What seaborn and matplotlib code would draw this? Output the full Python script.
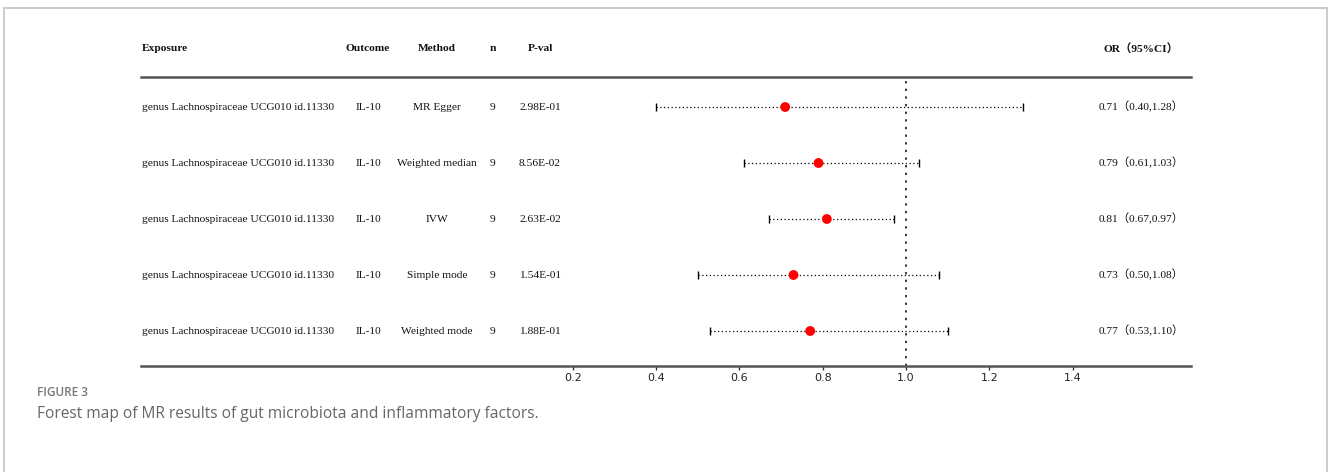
import pandas as pd
import matplotlib
matplotlib.use("Agg")
import matplotlib.pyplot as plt
import seaborn as sns
from matplotlib import transforms
from matplotlib.lines import Line2D

# Data
exposure = ["genus Lachnospiraceae UCG010 id.11330"] * 5
outcome = ["IL-10"] * 5
methods = ["MR Egger", "Weighted median", "IVW", "Simple mode", "Weighted mode"]
n_snp = [9, 9, 9, 9, 9]
pvals = ["2.98E-01", "8.56E-02", "2.63E-02", "1.54E-01", "1.88E-01"]
or_vals = [0.71, 0.79, 0.81, 0.73, 0.77]
ci_low = [0.40, 0.61, 0.67, 0.50, 0.53]
ci_high = [1.28, 1.03, 0.97, 1.08, 1.10]
xticks = [0.2, 0.4, 0.6, 0.8, 1.0, 1.2, 1.4]

df = pd.DataFrame({
    "exposure": exposure,
    "outcome": outcome,
    "method": methods,
    "n": n_snp,
    "pval": pvals,
    "or": or_vals,
    "lo": ci_low,
    "hi": ci_high,
})
df["row"] = range(len(df))
df["label"] = [f"{o:.2f}（{l:.2f},{h:.2f}）" for o, l, h in zip(df["or"], df["lo"], df["hi"])]

sns.set_style("white")
serif = ["Liberation Serif", "Noto Sans CJK SC", "DejaVu Sans"]

W, H = 1328, 472
fig = plt.figure(figsize=(W / 100, H / 100), dpi=100)
ax = fig.add_axes([141 / W, 1 - 366 / H, (1191 - 141) / W, (366 - 77) / H])

# CI bars (dotted) with solid caps
eb = ax.errorbar(df["or"], df["row"],
                 xerr=[df["or"] - df["lo"], df["hi"] - df["or"]],
                 fmt="none", ecolor="black", elinewidth=0.9,
                 capsize=3, capthick=1)
eb[2][0].set_linestyle((0, (1, 2)))

sns.scatterplot(data=df, x="or", y="row", color="red", s=50,
                edgecolor="none", zorder=3, ax=ax, legend=False)

ax.axvline(1.0, color="black", lw=1.1, ls=(0, (1.5, 3.5)), zorder=1)

ax.set_xlim(-0.836, 1.684)
ax.set_ylim(4.625, -0.536)
ax.set_xticks(xticks)
ax.set_xticklabels([f"{t:.1f}" for t in xticks])
ax.set_yticks([])
ax.set_xlabel("")
ax.set_ylabel("")
for side in ["left", "right"]:
    ax.spines[side].set_visible(False)
for side in ["top", "bottom"]:
    ax.spines[side].set_color("#555555")
    ax.spines[side].set_linewidth(1.8)
ax.tick_params(axis="x", direction="out", length=3, width=1, color="#333333",
               labelsize=8, pad=2, labelcolor="#222222", bottom=True)

# Table columns
trans = transforms.blended_transform_factory(fig.transFigure, ax.transData)
hy = -1.05
hdr = dict(transform=trans, fontsize=8.2, fontweight="bold", family=serif,
           va="center", clip_on=False, color="#111111")
ax.text(142 / W, hy, "Exposure", ha="left", **hdr)
ax.text(368 / W, hy, "Outcome", ha="center", **hdr)
ax.text(437 / W, hy, "Method", ha="center", **hdr)
ax.text(493 / W, hy, "n", ha="center", **hdr)
ax.text(528 / W, hy, "P-val", ha="left", **hdr)
ax.text(1141 / W, hy, "OR（95%CI）", ha="center", **hdr)

cell = dict(transform=trans, fontsize=8.2, family=serif, va="center",
            clip_on=False, color="#111111")
for _, r in df.iterrows():
    y = r["row"]
    ax.text(142 / W, y, r["exposure"], ha="left", **cell)
    ax.text(368 / W, y, r["outcome"], ha="center", **cell)
    ax.text(437 / W, y, r["method"], ha="center", **cell)
    ax.text(493 / W, y, str(r["n"]), ha="center", **cell)
    ax.text(519 / W, y, r["pval"], ha="left", **cell)
    ax.text(1141 / W, y, r["label"], ha="center", **cell)

# Caption
fig.text(37 / W, 1 - 392 / H, "FIGURE 3", fontsize=8.5, color="#777777",
         fontweight="semibold", family="Open Sans", va="center")
fig.text(37 / W, 1 - 414 / H,
         "Forest map of MR results of gut microbiota and inflammatory factors.",
         fontsize=11.2, color="#666666", family="Open Sans", va="center")

# Frame around the figure, open at the bottom
fx0, fx1, fy = 4 / W, 1327 / W, 1 - 8 / H
for xs, ys in [([fx0, fx0], [0, fy]), ([fx0, fx1], [fy, fy]), ([fx1, fx1], [fy, 0])]:
    fig.add_artist(Line2D(xs, ys, color="#c4c4c4", lw=1.2, transform=fig.transFigure))

fig.savefig("out.png", dpi=100)
